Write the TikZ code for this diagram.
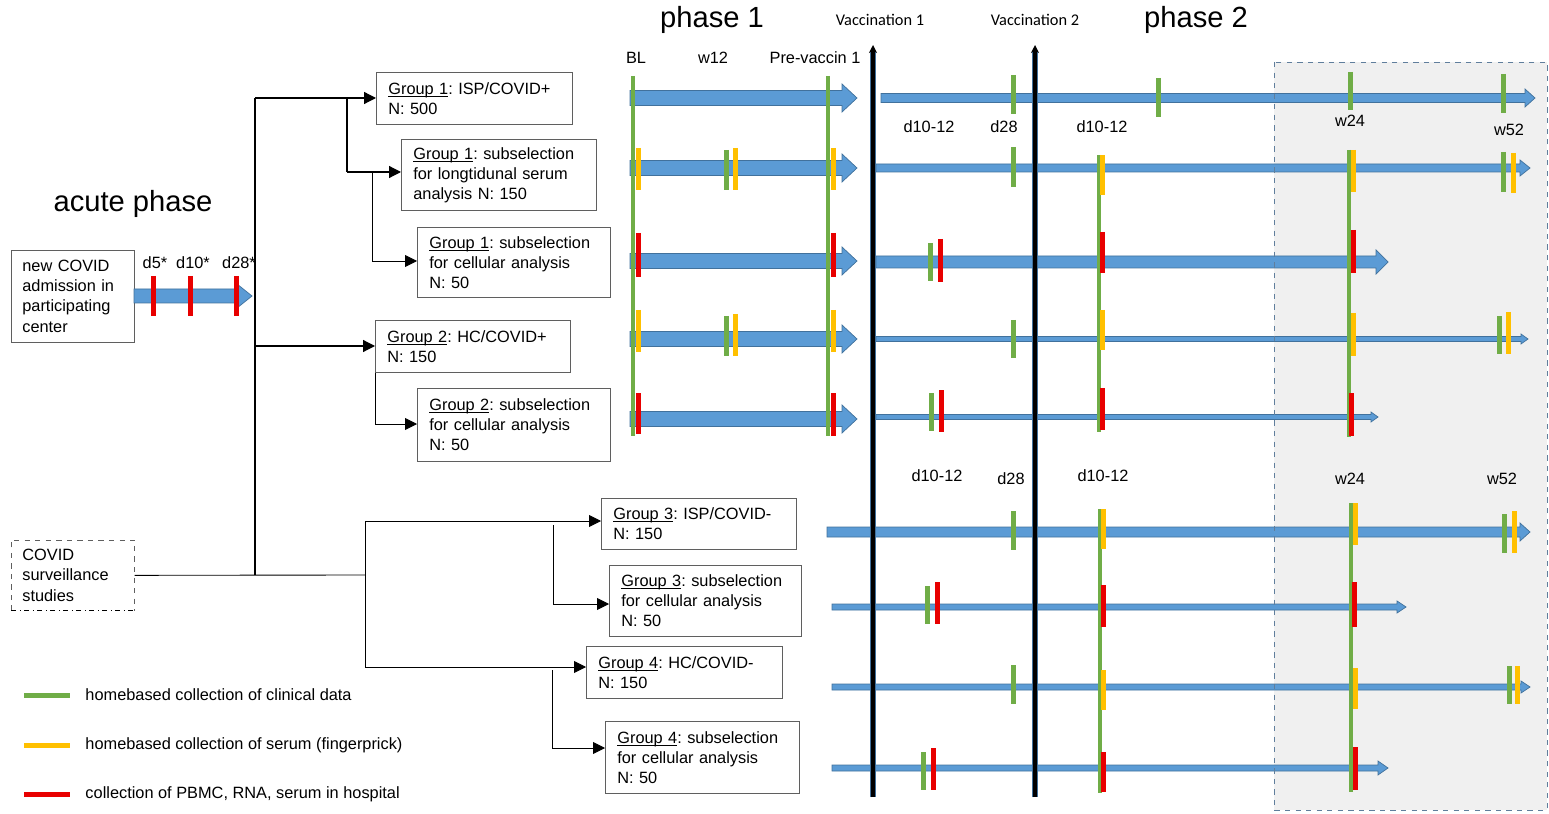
\documentclass[tikz,border=0pt]{standalone}
\usepackage{fontspec}
\setmainfont{Liberation Sans}
\newfontfamily\vacfont{Carlito}
\usetikzlibrary{positioning}
\usetikzlibrary{arrows.meta}
\definecolor{tlblue}{RGB}{91,155,213}
\definecolor{tledge}{RGB}{65,113,156}
\definecolor{mkgreen}{RGB}{112,173,71}
\definecolor{mkyellow}{RGB}{255,192,0}
\definecolor{mkred}{RGB}{232,0,0}
\definecolor{boxgray}{RGB}{95,95,95}
\definecolor{zonegray}{RGB}{240,240,240}
\definecolor{zoneedge}{RGB}{96,126,156}

% x1, x2, y, half shaft, half head, head length
\newcommand{\tlarrow}[6]{\filldraw[fill=tlblue, draw=tledge, line width=0.4pt]
  (#1,{#3-#4}) -- ({#2-#6},{#3-#4}) -- ({#2-#6},{#3-#5}) -- (#2,#3)
  -- ({#2-#6},{#3+#5}) -- ({#2-#6},{#3+#4}) -- (#1,{#3+#4}) -- cycle;}
\newcommand{\smark}[4]{\draw[#1] (#2,#3) -- (#2,#4);}
\newcommand{\grp}[1]{\setbox0\hbox{#1}\rlap{\rule[-1.4pt]{\wd0}{0.45pt}}\box0}
\frenchspacing

\begin{document}
\begin{tikzpicture}[x=0.02cm, y=-0.02cm, >={Triangle[length=0.24cm,width=0.24cm]},
font=\fontsize{9.3}{11.4}\selectfont,
grpbox/.style={draw=boxgray, fill=white, align=left, anchor=north west, inner xsep=0.24cm, inner ysep=0pt},
lbl/.style={inner sep=0pt, text=black},
ttl/.style={inner sep=0pt, font=\fontsize{16.6}{20}\selectfont},
vac/.style={inner sep=0pt, font=\vacfont\fontsize{9.3}{11}\selectfont},
flow/.style={line width=0.7pt, draw=black},
gm/.style={mkgreen, line width=0.1cm},
ym/.style={mkyellow, line width=0.1cm},
rm/.style={mkred, line width=0.1cm},
gl/.style={mkgreen, line width=0.09cm},
vline/.style={line width=0.08cm, -{Stealth[length=0.16cm,width=0.16cm]}}]
\useasboundingbox (0,0) rectangle (1549,814);

\fill[zonegray] (1274,62) rectangle (1547,810);

%% titles
\node [ttl] (acute) at (133,204) {acute phase};
\node [ttl] (ph1) at (712,20) {phase 1};
\node [ttl] (ph2) at (1196,20) {phase 2};
\node [vac] (vac1) at (880,20) {Vaccination 1};
\node [vac] (vac2) at (1035,20) {Vaccination 2};

\node [lbl] (bl) at (636,58) {BL};
\node [lbl] (wtw) at (713,58) {w12};
\node [lbl] (pre) at (815,58) {Pre-vaccin 1};

\node [lbl] (ua) at (929,127) {d10-12};
\node [lbl] (ub) at (1004,127) {d28};
\node [lbl] (uc) at (1102,127) {d10-12};
\node [lbl] (ud) at (1350,121) {w24};
\node [lbl] (ue) at (1509,130) {w52};

\node [lbl] (la) at (937,476) {d10-12};
\node [lbl] (lb) at (1011,479) {d28};
\node [lbl] (lc) at (1103,476) {d10-12};
\node [lbl] (ld) at (1350,479) {w24};
\node [lbl] (le) at (1502,479) {w52};

%% acute phase
\node [grpbox, inner xsep=0.22cm, text width=2.02cm, minimum height=1.84cm] (adm) at (11,250)
  {new COVID\\admission in\\participating\\center};
\tlarrow{134}{252}{296}{7}{12}{15}
\smark{rm}{153}{276}{316}
\smark{rm}{190}{276}{316}
\smark{rm}{236}{276}{316}
\node [lbl] (dA) at (155,263) {d5*};
\node [lbl] (dB) at (193,263) {d10*};
\node [lbl] (dC) at (239,263) {d28*};

\node [grpbox, draw=none, fill=none, inner xsep=0.22cm, text width=2.02cm, minimum height=1.4cm] (surv) at (11,540)
  {COVID\\surveillance\\studies};
\draw [boxgray, dashed, line width=0.5pt] (surv.south west) -- (surv.north west) -- (surv.north east) -- (surv.south east);
\draw [black, dash dot, line width=0.6pt] (surv.south west) -- (surv.south east);

%% groups
\node [grpbox, text width=3.44cm, minimum height=1.04cm] (gA) at (376,72)
  {\grp{Group 1}: ISP/COVID+\\N: 500};
\node [grpbox, text width=3.42cm, minimum height=1.42cm] (gAs) at (401,139)
  {\grp{Group 1}: subselection\\for longtidunal serum\\analysis N: 150};
\node [grpbox, text width=3.38cm, minimum height=1.4cm] (gAc) at (417,227)
  {\grp{Group 1}: subselection\\for cellular analysis\\N: 50};
\node [grpbox, text width=3.42cm, minimum height=1.04cm] (gB) at (375,320)
  {\grp{Group 2}: HC/COVID+\\N: 150};
\node [grpbox, text width=3.38cm, minimum height=1.46cm] (gBc) at (417,388)
  {\grp{Group 2}: subselection\\for cellular analysis\\N: 50};
\node [grpbox, text width=3.42cm, minimum height=1.02cm] (gC) at (601,498)
  {\grp{Group 3}: ISP/COVID-\\N: 150};
\node [grpbox, text width=3.36cm, minimum height=1.42cm] (gCc) at (609,565)
  {\grp{Group 3}: subselection\\for cellular analysis\\N: 50};
\node [grpbox, text width=3.44cm, minimum height=1.04cm] (gD) at (586,646)
  {\grp{Group 4}: HC/COVID-\\N: 150};
\node [grpbox, text width=3.40cm, minimum height=1.44cm] (gDc) at (605,721)
  {\grp{Group 4}: subselection\\for cellular analysis\\N: 50};

%% connectors
\coordinate (jA) at (255,98);
\coordinate (jB) at (255,575);
\coordinate (jC) at (255,346);
\coordinate (kA) at (347,98);
\coordinate (kB) at (347,172);
\coordinate (kC) at (372,172);
\coordinate (kD) at (372,261);
\coordinate (kE) at (375,424);
\draw [flow] (jA) -- (jB);
\draw [flow, ->] (jA) -- (gA.west |- jA);
\draw [flow] (kA) -- (kB);
\draw [flow, ->] (kB) -- (gAs.west |- kB);
\draw [flow, line width=0.5pt] (kC) -- (kD);
\draw [flow, line width=0.5pt, ->] (kD) -- (gAc.west |- kD);
\draw [flow, ->] (jC) -- (gB.west |- jC);
\draw [flow, line width=0.5pt] (gB.south west) -- (kE);
\draw [flow, line width=0.5pt, ->] (kE) -- (gBc.west |- kE);

\coordinate (sA) at (365,575);
\coordinate (sB) at (365,521);
\coordinate (sC) at (365,667);
\coordinate (sD) at (553,525);
\coordinate (sE) at (553,604);
\coordinate (sF) at (552,670);
\coordinate (sG) at (552,748);
\draw [flow, line width=0.5pt] (surv.east) -- (sA);
\draw [flow, line width=0.5pt] (sB) -- (sC);
\draw [flow, line width=0.5pt, ->] (sB) -- (gC.west |- sB);
\draw [flow, line width=0.5pt, ->] (sC) -- (gD.west |- sC);
\draw [flow, line width=0.5pt] (sD) -- (sE);
\draw [flow, line width=0.5pt, ->] (sE) -- (gCc.west |- sE);
\draw [flow, line width=0.5pt] (sF) -- (sG);
\draw [flow, line width=0.5pt, ->] (sG) -- (gDc.west |- sG);

%% timelines
\foreach \yy in {98,168,261,339,419} {\tlarrow{630}{857}{\yy}{7.5}{14}{15}}
\tlarrow{881}{1535}{98}{4.5}{9}{10}
\tlarrow{876}{1530}{168}{4}{8}{10}
\tlarrow{876}{1388}{262}{6}{12}{12}
\tlarrow{876}{1528}{339}{2.5}{5}{7}
\tlarrow{876}{1378}{417}{2.5}{5}{7}
\tlarrow{827}{1530}{532}{5}{9}{10}
\tlarrow{832}{1406}{607}{3}{6}{9}
\tlarrow{832}{1530}{687}{3}{6}{9}
\tlarrow{832}{1388}{768}{3}{7}{10}

%% long green lines
\smark{gl}{633}{76}{436}
\smark{gl}{828}{76}{436}
\smark{gl}{1099}{155}{432}
\smark{gl}{1349}{150}{437}
\smark{gl}{1100}{509}{793}
\smark{gl}{1351}{503}{792}

% phase 1
\smark{ym}{638}{148}{190}
\smark{gm}{726}{150}{190}
\smark{ym}{735}{148}{190}
\smark{ym}{833}{148}{190}
\smark{rm}{638}{233}{277}
\smark{rm}{833}{233}{277}
\smark{ym}{638}{310}{352}
\smark{gm}{726}{316}{356}
\smark{ym}{735}{314}{356}
\smark{ym}{833}{310}{352}
\smark{rm}{638}{393}{434}
\smark{rm}{833}{393}{436}

% phase 2, groups 1 and 2
\smark{gm}{1013}{75}{114}
\smark{gm}{1158}{78}{117}
\smark{gm}{1350}{72}{110}
\smark{gm}{1503}{74}{113}
\smark{gm}{1013}{147}{187}
\smark{ym}{1102}{155}{195}
\smark{ym}{1353}{150}{192}
\smark{gm}{1503}{152}{192}
\smark{ym}{1513}{153}{193}
\smark{gm}{930}{243}{281}
\smark{rm}{940}{239}{282}
\smark{rm}{1102}{232}{273}
\smark{rm}{1353}{230}{273}
\smark{gm}{1013}{320}{358}
\smark{ym}{1102}{310}{350}
\smark{ym}{1353}{313}{356}
\smark{gm}{1499}{316}{354}
\smark{ym}{1508}{312}{354}
\smark{gm}{931}{393}{431}
\smark{rm}{941}{390}{432}
\smark{rm}{1102}{388}{430}
\smark{rm}{1351}{393}{436}

% phase 2, groups 3 and 4
\smark{gm}{1013}{511}{550}
\smark{ym}{1103}{509}{549}
\smark{ym}{1355}{503}{545}
\smark{gm}{1504}{514}{553}
\smark{ym}{1514}{511}{553}
\smark{gm}{927}{586}{624}
\smark{rm}{937}{582}{624}
\smark{rm}{1103}{585}{627}
\smark{rm}{1354}{582}{627}
\smark{gm}{1013}{665}{704}
\smark{ym}{1103}{670}{710}
\smark{ym}{1355}{668}{709}
\smark{gm}{1509}{666}{704}
\smark{ym}{1517}{666}{704}
\smark{gm}{923}{752}{790}
\smark{rm}{933}{748}{790}
\smark{rm}{1103}{752}{792}
\smark{rm}{1355}{747}{790}

%% vaccinations
\draw [tledge, line width=0.11cm] (873,797) -- (873,52);
\draw [vline] (873,797) -- (873,45);
\draw [tledge, line width=0.11cm] (1035,797) -- (1035,52);
\draw [vline] (1035,797) -- (1035,45);

\draw [zoneedge, dashed, line width=0.5pt] (1274,62) rectangle (1547,810);

%% legend
\coordinate (lgA) at (24,695);
\coordinate (lgB) at (24,745);
\coordinate (lgC) at (24,794);
\draw [gm] (lgA) -- ++(46,0) node [lbl, anchor=west, xshift=0.26cm] (tgA) {homebased collection of clinical data};
\draw [ym] (lgB) -- ++(46,0) node [lbl, anchor=west, xshift=0.26cm] (tgB) {homebased collection of serum (fingerprick)};
\draw [rm] (lgC) -- ++(46,0) node [lbl, anchor=west, xshift=0.26cm] (tgC) {collection of PBMC, RNA, serum in hospital};
\end{tikzpicture}
\end{document}
